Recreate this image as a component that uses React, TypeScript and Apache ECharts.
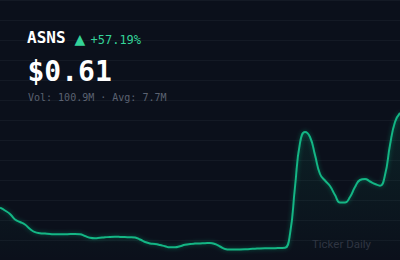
import React, { useEffect, useRef } from "react";
import * as echarts from "echarts";

// Daily closing prices (USD), one point per session, oldest first
const prices: number[] = [
  0.4246, 0.419, 0.412, 0.401, 0.396, 0.391, 0.382, 0.3756, 0.3736, 0.3728,
  0.372, 0.3714, 0.3714, 0.3716, 0.3718, 0.372, 0.3714, 0.368, 0.3644, 0.3634,
  0.3644, 0.3654, 0.3662, 0.3664, 0.3662, 0.3658, 0.3656, 0.3648, 0.361, 0.356,
  0.353, 0.352, 0.35, 0.3474, 0.3454, 0.3454, 0.3474, 0.3504, 0.352, 0.3528,
  0.3532, 0.3536, 0.354, 0.352, 0.347, 0.342, 0.3408, 0.3408, 0.341, 0.3414,
  0.342, 0.3426, 0.3432, 0.3434, 0.3434, 0.3436, 0.344, 0.3444, 0.372, 0.466,
  0.554, 0.576, 0.566, 0.53, 0.492, 0.479, 0.468, 0.45, 0.435, 0.435,
  0.446, 0.466, 0.48, 0.482, 0.477, 0.472, 0.4686, 0.49, 0.55, 0.596,
  0.614,
];
const days: string[] = prices.map((_, i) => `D${i + 1}`);

const yMin = 0.32;
const yMax = 0.84;
const yStep = 0.04;

const ticker = "ASNS";
const changeText = "+57.19%";
const priceText = "$0.61";
const volText = "Vol: 100.9M · Avg: 7.7M";
const watermark = "Ticker Daily";

const MONO = '"DejaVu Sans Mono", "Liberation Mono", monospace';

export default function App() {
  const ref = useRef<HTMLDivElement>(null);

  useEffect(() => {
    document.body.style.margin = "0";
    if (!ref.current) return;
    const chart = echarts.init(ref.current, undefined, { renderer: "svg" });
    chart.setOption({
      animation: false,
      backgroundColor: "#0b101b",
      grid: { left: 0, right: 0, top: 0, bottom: 0 },
      xAxis: {
        type: "category",
        data: days,
        boundaryGap: false,
        axisLine: { show: false },
        axisTick: { show: false },
        axisLabel: { show: false },
        splitLine: { show: false },
      },
      yAxis: {
        type: "value",
        min: yMin,
        max: yMax,
        interval: yStep,
        axisLine: { show: false },
        axisTick: { show: false },
        axisLabel: { show: false },
        splitLine: { show: true, lineStyle: { color: "#141a25", width: 1 } },
      },
      series: [
        {
          type: "line",
          data: prices,
          smooth: 0.5,
          symbol: "none",
          lineStyle: {
            color: "#12b584",
            width: 2,
            shadowColor: "rgba(16,185,129,0.45)",
            shadowBlur: 4,
          },
          areaStyle: {
            color: new echarts.graphic.LinearGradient(0, 0, 0, 1, [
              { offset: 0, color: "rgba(16,185,129,0.16)" },
              { offset: 1, color: "rgba(16,185,129,0)" },
            ]),
          },
        },
      ],
      graphic: [
        {
          type: "group",
          z: 100,
          children: [
            {
              type: "text",
              z: 100,
              style: {
                text: ticker,
                x: 27,
                y: 37.5,
                fill: "#ffffff",
                font: `bold 16px ${MONO}`,
                textVerticalAlign: "middle",
              },
            },
            {
              type: "text",
              z: 100,
              style: {
                text: "▲",
                x: 74.5,
                y: 39,
                fill: "#34d399",
                font: `14px "DejaVu Sans", sans-serif`,
                textVerticalAlign: "middle",
              },
            },
            {
              type: "text",
              z: 100,
              style: {
                text: changeText,
                x: 90.5,
                y: 39.5,
                fill: "#34d399",
                font: `12px ${MONO}`,
                textVerticalAlign: "middle",
              },
            },
            {
              type: "text",
              z: 100,
              style: {
                text: priceText,
                x: 27.5,
                y: 71,
                fill: "#ffffff",
                font: `bold 28px ${MONO}`,
                textVerticalAlign: "middle",
              },
            },
            {
              type: "text",
              z: 100,
              style: {
                text: volText,
                x: 28,
                y: 97.5,
                fill: "#5b6271",
                font: `10px ${MONO}`,
                textVerticalAlign: "middle",
              },
            },
            {
              type: "text",
              z: 100,
              style: {
                text: watermark,
                x: 371,
                y: 244,
                fill: "#2f3542",
                font: `11.5px Roboto, sans-serif`,
                textAlign: "right",
                textVerticalAlign: "middle",
              },
            },
          ],
        },
      ],
    });
    return () => chart.dispose();
  }, []);

  return (
    <div
      ref={ref}
      style={{ position: "absolute", left: 0, top: 0, width: 400, height: 260 }}
    />
  );
}
